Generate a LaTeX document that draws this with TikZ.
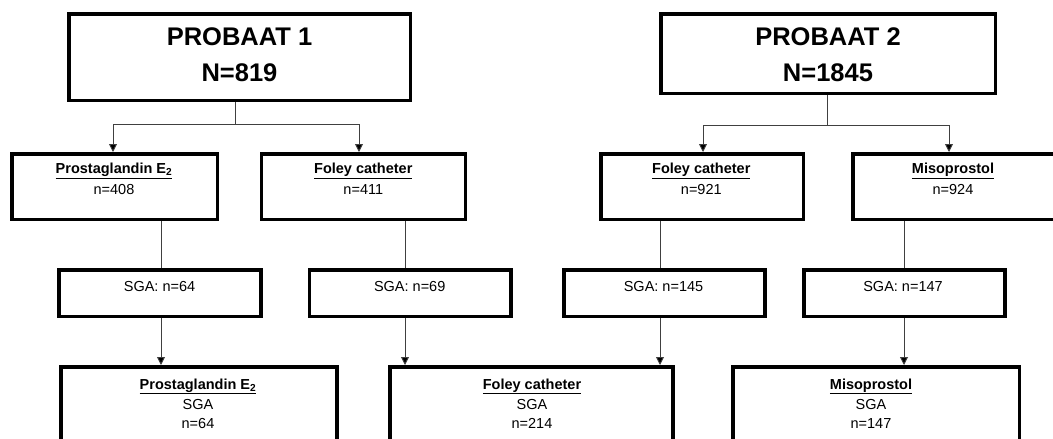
\documentclass[tikz,border=0pt]{standalone}
\usepackage{fontspec}
\setmainfont{Liberation Sans}
\usetikzlibrary{arrows.meta}
\begin{document}
\begin{tikzpicture}[x=1pt,y=-1pt,
  box/.style={draw=black,line width=3.5pt,inner sep=0pt,anchor=north west},
  conn/.style={draw=black!75,line width=0.9pt},
  arr/.style={conn,-{Triangle[width=8pt,length=8pt,fill=black]}},
  txt/.style={anchor=base,inner sep=0pt,text=black,font=\fontsize{14.5}{17}\selectfont},
  hd/.style={txt,font=\fontsize{14.5}{17}\selectfont\bfseries},
  ttl/.style={anchor=base,inner sep=0pt,font=\fontsize{25.5}{30}\selectfont\bfseries}]
\clip (0,0) rectangle (1053,439);
\fill[white] (0,0) rectangle (1053,439);
% top boxes
\node[box,minimum width=341.5pt,minimum height=86.5pt] (t1) at (67,12) {};
\node[box,minimum width=334.5pt,minimum height=79.5pt] (t2) at (659,12) {};
\node[ttl] (t1a) at (239.5,45.7) {PROBAAT 1};
\node[ttl] (t1b) at (239.5,81.7) {N=819};
\node[ttl] (t2a) at (828,45.7) {PROBAAT 2};
\node[ttl] (t2b) at (828,81.7) {N=1845};
% row 2
\node[box,minimum width=205.5pt,minimum height=65.5pt] (p1) at (10,152) {};
\node[box,minimum width=204pt,minimum height=65.5pt] (f1) at (259.5,152) {};
\node[box,minimum width=202.5pt,minimum height=65.5pt] (f2) at (599,152) {};
\node[box,minimum width=202.5pt,minimum height=65.5pt] (m2) at (851,152) {};
\node[hd] (p1a) at (114,173.5) {\underline{Prostaglandin E\textsubscript{2}}};
\node[txt] (p1b) at (114,194.5) {n=408};
\node[hd] (f1a) at (363.3,173.5) {\underline{Foley catheter}};
\node[txt] (f1b) at (363.3,194.5) {n=411};
\node[hd] (f2a) at (701.3,173.5) {\underline{Foley catheter}};
\node[txt] (f2b) at (701.3,194.5) {n=921};
\node[hd] (m2a) at (953,173.5) {\underline{Misoprostol}};
\node[txt] (m2b) at (953,194.5) {n=924};
% row 3
\node[box,minimum width=202pt,minimum height=46.5pt] (s1) at (57,268) {};
\node[box,minimum width=201.5pt,minimum height=46.5pt] (s2) at (307.5,268) {};
\node[box,minimum width=201pt,minimum height=46.5pt] (s3) at (562,268) {};
\node[box,minimum width=201pt,minimum height=46.5pt] (s4) at (802,268) {};
\node[txt] (s1a) at (159.5,291) {SGA: n=64};
\node[txt] (s2a) at (409.7,291) {SGA: n=69};
\node[txt] (s3a) at (663.5,291) {SGA: n=145};
\node[txt] (s4a) at (903,291) {SGA: n=147};
% row 4
\node[box,minimum width=276pt,minimum height=100pt] (bp) at (59,365) {};
\node[box,minimum width=283pt,minimum height=100pt] (bf) at (388,365) {};
\node[box,minimum width=286.5pt,minimum height=100pt] (bm) at (731,365) {};
\node[hd] (bpa) at (198,389) {\underline{Prostaglandin E\textsubscript{2}}};
\node[txt] (bpb) at (198,409.5) {SGA};
\node[txt] (bpc) at (198,428) {n=64};
\node[hd] (bfa) at (532,389) {\underline{Foley catheter}};
\node[txt] (bfb) at (532,409.5) {SGA};
\node[txt] (bfc) at (532,428) {n=214};
\node[hd] (bma) at (871,389) {\underline{Misoprostol}};
\node[txt] (bmb) at (871,409.5) {SGA};
\node[txt] (bmc) at (871,428) {n=147};
% connectors top
\coordinate (j1) at (235,124);
\coordinate (a1) at (113,124);
\coordinate (a2) at (359,124);
\draw[conn] (t1.south -| j1) -- (j1);
\draw[conn] (a1) -- (a2);
\draw[arr] (a1) -- (a1 |- p1.north);
\draw[arr] (a2) -- (a2 |- f1.north);
\coordinate (j2) at (827,125);
\coordinate (a3) at (703,125);
\coordinate (a4) at (949,125);
\draw[conn] (t2.south -| j2) -- (j2);
\draw[conn] (a3) -- (a4);
\draw[arr] (a3) -- (a3 |- f2.north);
\draw[arr] (a4) -- (a4 |- m2.north);
% row 2 -> row 3
\coordinate (x1) at (161,0);
\coordinate (x2) at (405,0);
\coordinate (x3) at (660,0);
\coordinate (x4) at (904,0);
\draw[conn] (p1.south -| x1) -- (s1.north -| x1);
\draw[conn] (f1.south -| x2) -- (s2.north -| x2);
\draw[conn] (f2.south -| x3) -- (s3.north -| x3);
\draw[conn] (m2.south -| x4) -- (s4.north -| x4);
% row 3 -> row 4
\draw[arr] (s1.south -| x1) -- (bp.north -| x1);
\draw[arr] (s2.south -| x2) -- (bf.north -| x2);
\draw[arr] (s3.south -| x3) -- (bf.north -| x3);
\draw[arr] (s4.south -| x4) -- (bm.north -| x4);
\end{tikzpicture}
\end{document}
